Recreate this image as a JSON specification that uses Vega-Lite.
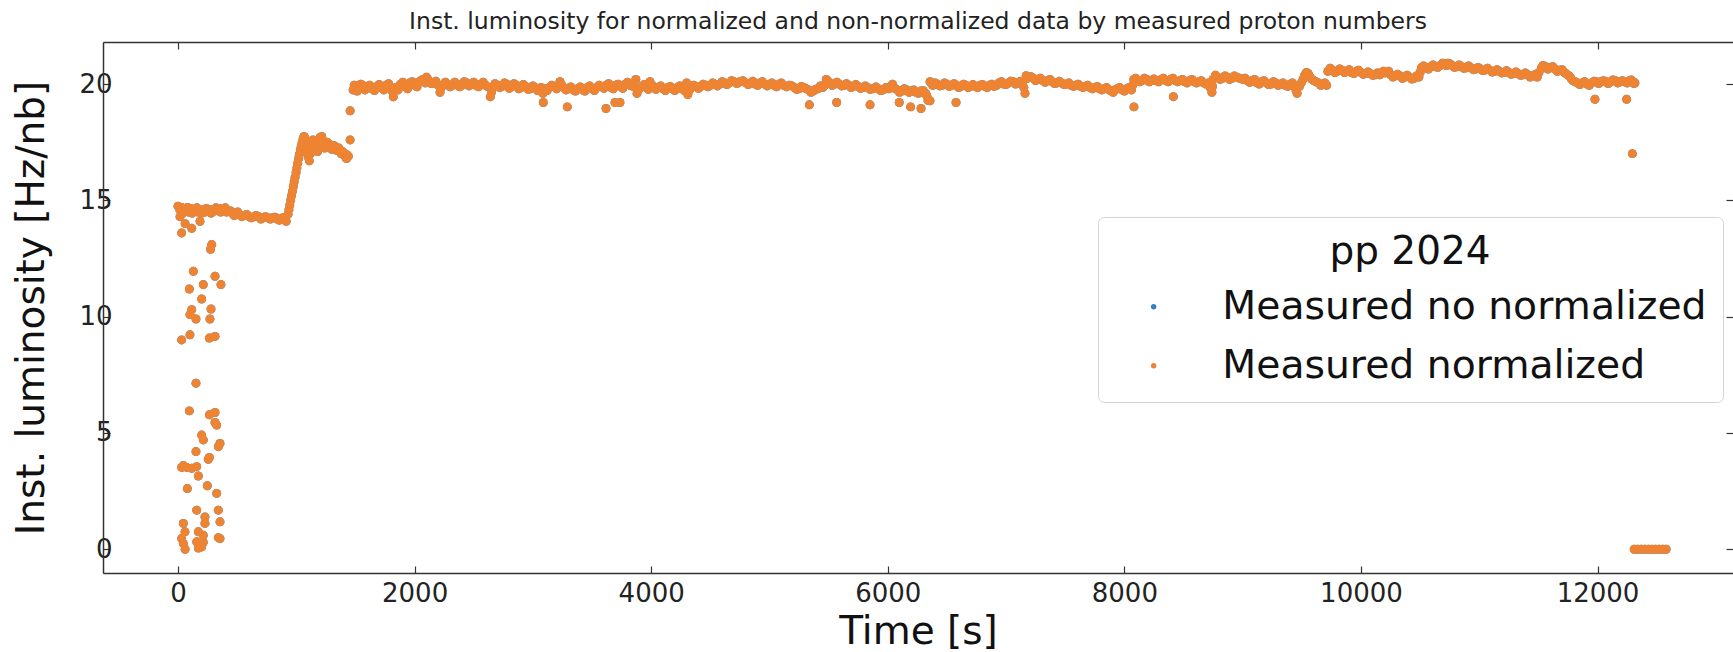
{
  "$schema": "https://vega.github.io/schema/vega-lite/v6.json",
  "width": 1630,
  "height": 531,
  "autosize": {"type": "none"},
  "padding": {"left": 103, "top": 42, "right": 0, "bottom": 79},
  "background": "white",
  "config": {
    "view": {"stroke": null},
    "font": "DejaVu Sans",
    "axis": {
      "grid": false,
      "domainColor": "#333",
      "domainWidth": 1.5,
      "tickColor": "#333",
      "tickWidth": 1.2,
      "tickSize": -7,
      "labelFont": "DejaVu Sans",
      "labelFontSize": 26,
      "labelColor": "#222",
      "titleFont": "DejaVu Sans",
      "titleFontSize": 39,
      "titleFontWeight": "normal",
      "titleColor": "#111",
      "format": "d"
    }
  },
  "title": {
    "text": "Inst. luminosity for normalized and non-normalized data by measured proton numbers",
    "font": "DejaVu Sans",
    "fontSize": 23.5,
    "fontWeight": "normal",
    "color": "#222",
    "anchor": "middle",
    "offset": 8
  },
  "data": {
    "values": [
      {"t":0,"v":14.75},{"t":15,"v":14.6},{"t":30,"v":14.7},{"t":50,"v":14.55},{"t":70,"v":14.6},{"t":90,"v":14.5},{"t":110,"v":14.65},{"t":130,"v":14.55},{"t":150,"v":14.6},{"t":170,"v":14.5},{"t":190,"v":14.55},{"t":210,"v":14.6},{"t":230,"v":14.5},{"t":250,"v":14.55},{"t":270,"v":14.6},{"t":290,"v":14.5},{"t":310,"v":14.55},{"t":330,"v":14.6},{"t":350,"v":14.65},{"t":370,"v":14.55},{"t":390,"v":14.6},{"t":410,"v":14.5},{"t":430,"v":14.55},{"t":460,"v":14.45},{"t":490,"v":14.45},{"t":520,"v":14.4},{"t":560,"v":14.35},{"t":600,"v":14.3},{"t":640,"v":14.3},{"t":680,"v":14.3},{"t":720,"v":14.25},{"t":760,"v":14.25},{"t":800,"v":14.25},{"t":840,"v":14.2},{"t":870,"v":14.2},{"t":900,"v":14.15},{"t":915,"v":14.1},
      {"t":40,"v":14.45},{"t":80,"v":14.7},{"t":120,"v":14.45},{"t":160,"v":14.68},{"t":200,"v":14.45},{"t":240,"v":14.65},{"t":280,"v":14.45},{"t":320,"v":14.68},{"t":360,"v":14.5},{"t":400,"v":14.68},{"t":445,"v":14.55},{"t":475,"v":14.35},{"t":505,"v":14.5},{"t":540,"v":14.3},{"t":580,"v":14.4},{"t":620,"v":14.25},{"t":660,"v":14.35},{"t":700,"v":14.2},{"t":740,"v":14.3},{"t":780,"v":14.2},{"t":820,"v":14.28},{"t":855,"v":14.15},{"t":885,"v":14.25},
      {"t":930,"v":14.4},{"t":945,"v":14.8},{"t":960,"v":15.2},{"t":975,"v":15.6},{"t":990,"v":16.0},{"t":1005,"v":16.4},{"t":1020,"v":16.8},{"t":1035,"v":17.2},{"t":1050,"v":17.5},{"t":1065,"v":17.75},{"t":1080,"v":17.5},{"t":1095,"v":17.0},{"t":1110,"v":16.7},{"t":1125,"v":17.3},{"t":1140,"v":17.6},{"t":1160,"v":17.4},{"t":1180,"v":17.1},{"t":1200,"v":17.7},{"t":1215,"v":17.75},{"t":1230,"v":17.4},{"t":1250,"v":17.35},{"t":1270,"v":17.45},{"t":1290,"v":17.3},{"t":1310,"v":17.35},{"t":1330,"v":17.25},{"t":1350,"v":17.2},{"t":1370,"v":17.15},{"t":1390,"v":17.1},{"t":1410,"v":16.95},{"t":1425,"v":16.8},{"t":1440,"v":16.9},{"t":1455,"v":17.6},{"t":1455,"v":18.85},
      {"t":938,"v":14.6},{"t":952,"v":15.0},{"t":968,"v":15.4},{"t":982,"v":15.8},{"t":998,"v":16.2},{"t":1012,"v":16.6},{"t":1028,"v":17.0},{"t":1042,"v":17.35},{"t":1058,"v":17.65},{"t":1072,"v":17.7},{"t":1088,"v":17.2},{"t":1102,"v":16.85},{"t":1118,"v":17.0},{"t":1132,"v":17.5},{"t":1150,"v":17.55},{"t":1170,"v":17.25},{"t":1190,"v":17.4},{"t":1208,"v":17.6},{"t":1222,"v":17.55},{"t":1240,"v":17.25},{"t":1260,"v":17.5},{"t":1280,"v":17.35},{"t":1300,"v":17.2},{"t":1320,"v":17.35},{"t":1340,"v":17.15},{"t":1360,"v":17.25},{"t":1380,"v":17.0},{"t":1400,"v":17.05},{"t":1418,"v":16.85},{"t":1432,"v":16.95},
      {"t":17,"v":14.3},{"t":31,"v":13.6},{"t":116,"v":13.8},{"t":186,"v":14.1},{"t":60,"v":14.0},{"t":285,"v":13.1},{"t":275,"v":12.9},
      {"t":130,"v":11.95},{"t":313,"v":11.74},{"t":363,"v":11.38},{"t":214,"v":11.38},{"t":96,"v":11.19},{"t":200,"v":10.76},{"t":116,"v":10.3},{"t":101,"v":10.09},{"t":152,"v":9.9},{"t":279,"v":10.33},{"t":270,"v":9.9},{"t":31,"v":9.0},{"t":101,"v":9.22},{"t":265,"v":9.08},{"t":313,"v":9.15},
      {"t":152,"v":7.14},{"t":96,"v":5.95},{"t":265,"v":5.78},{"t":313,"v":5.88},{"t":327,"v":5.34},{"t":313,"v":5.45},{"t":200,"v":4.91},{"t":214,"v":4.7},{"t":355,"v":4.55},{"t":341,"v":4.41},{"t":152,"v":4.2},{"t":256,"v":3.87},{"t":265,"v":3.95},{"t":31,"v":3.52},{"t":73,"v":3.52},{"t":116,"v":3.48},{"t":158,"v":3.55},{"t":45,"v":3.6},{"t":172,"v":3.15},{"t":79,"v":2.61},{"t":248,"v":2.73},{"t":327,"v":2.4},{"t":158,"v":1.68},{"t":341,"v":1.68},{"t":228,"v":1.39},{"t":228,"v":1.11},{"t":355,"v":1.18},{"t":45,"v":1.11},{"t":59,"v":0.75},{"t":172,"v":0.75},{"t":214,"v":0.6},{"t":355,"v":0.46},{"t":45,"v":0.25},{"t":158,"v":0.32},{"t":200,"v":0.1},{"t":31,"v":0.46},{"t":186,"v":0.2},{"t":172,"v":0.05},{"t":341,"v":0.5},{"t":60,"v":0.0},{"t":214,"v":0.3},
      {"t":1480,"v":19.75},{"t":1500,"v":19.9},{"t":1530,"v":19.8},{"t":1560,"v":19.95},{"t":1600,"v":19.85},{"t":1640,"v":19.8},{"t":1680,"v":19.9},{"t":1720,"v":19.85},{"t":1760,"v":19.95},{"t":1800,"v":19.8},{"t":1820,"v":19.45},{"t":1840,"v":19.85},{"t":1880,"v":20.0},{"t":1920,"v":19.9},{"t":1960,"v":20.05},{"t":2000,"v":19.95},{"t":2040,"v":20.1},{"t":2080,"v":20.2},{"t":2100,"v":20.3},{"t":2120,"v":20.15},{"t":2160,"v":20.05},{"t":2200,"v":19.95},{"t":2215,"v":19.65},{"t":2240,"v":19.95},{"t":2280,"v":20.0},{"t":2320,"v":19.95},{"t":2360,"v":20.0},{"t":2400,"v":19.95},{"t":2440,"v":20.05},{"t":2480,"v":20.0},{"t":2520,"v":19.95},{"t":2560,"v":20.0},{"t":2600,"v":19.95},{"t":2640,"v":19.45},{"t":2660,"v":19.85},{"t":2700,"v":19.95},{"t":2740,"v":19.9},{"t":2780,"v":20.0},{"t":2820,"v":19.9},{"t":2860,"v":19.95},{"t":2900,"v":19.85},{"t":2940,"v":19.9},{"t":2980,"v":19.8},{"t":3020,"v":19.85},{"t":3060,"v":19.75},{"t":3085,"v":19.6},
      {"t":1490,"v":19.95},{"t":1515,"v":19.7},{"t":1545,"v":20.0},{"t":1580,"v":19.75},{"t":1620,"v":19.95},{"t":1660,"v":19.72},{"t":1700,"v":19.98},{"t":1740,"v":19.75},{"t":1780,"v":20.02},{"t":1810,"v":19.7},{"t":1860,"v":19.75},{"t":1900,"v":20.08},{"t":1940,"v":19.8},{"t":1980,"v":20.1},{"t":2020,"v":19.88},{"t":2060,"v":20.18},{"t":2090,"v":20.05},{"t":2110,"v":20.22},{"t":2140,"v":20.02},{"t":2180,"v":20.12},{"t":2225,"v":19.85},{"t":2260,"v":20.08},{"t":2300,"v":19.88},{"t":2340,"v":20.08},{"t":2380,"v":19.88},{"t":2420,"v":20.1},{"t":2460,"v":19.92},{"t":2500,"v":20.08},{"t":2540,"v":19.88},{"t":2580,"v":20.08},{"t":2620,"v":19.88},{"t":2650,"v":19.65},{"t":2680,"v":20.02},{"t":2720,"v":19.85},{"t":2760,"v":20.05},{"t":2800,"v":19.82},{"t":2840,"v":20.02},{"t":2880,"v":19.8},{"t":2920,"v":19.98},{"t":2960,"v":19.78},{"t":3000,"v":19.92},{"t":3040,"v":19.72},{"t":3070,"v":19.85},
      {"t":3100,"v":19.8},{"t":3140,"v":19.85},{"t":3180,"v":19.9},{"t":3229,"v":20.1},{"t":3260,"v":19.85},{"t":3300,"v":19.8},{"t":3340,"v":19.75},{"t":3380,"v":19.8},{"t":3420,"v":19.75},{"t":3460,"v":19.85},{"t":3500,"v":19.8},{"t":3540,"v":19.85},{"t":3580,"v":19.9},{"t":3620,"v":19.95},{"t":3660,"v":19.85},{"t":3700,"v":19.95},{"t":3740,"v":19.9},{"t":3780,"v":20.0},{"t":3820,"v":19.95},{"t":3870,"v":20.2},{"t":3880,"v":19.6},{"t":3920,"v":19.9},{"t":3960,"v":19.85},{"t":3990,"v":20.1},{"t":4020,"v":19.9},{"t":4060,"v":19.85},{"t":4100,"v":19.8},{"t":4140,"v":19.85},{"t":4180,"v":19.8},{"t":4220,"v":19.85},{"t":4260,"v":19.8},{"t":4300,"v":20.05},{"t":4310,"v":19.55},{"t":4340,"v":19.85},{"t":4380,"v":19.9},{"t":4420,"v":19.9},{"t":4460,"v":19.95},{"t":4500,"v":19.95},{"t":4540,"v":20.0},{"t":4580,"v":20.0},{"t":4620,"v":20.05},{"t":4660,"v":20.05},{"t":4700,"v":20.1},{"t":4750,"v":20.1},{"t":4800,"v":20.05},{"t":4840,"v":20.05},{"t":4880,"v":20.0},{"t":4920,"v":20.05},{"t":4960,"v":20.0},{"t":5000,"v":20.0},{"t":5040,"v":19.95},{"t":5080,"v":20.0},{"t":5120,"v":19.95},{"t":5170,"v":19.95},{"t":5210,"v":19.85},{"t":5250,"v":19.8},{"t":5290,"v":19.85},{"t":5330,"v":19.75},{"t":5370,"v":19.7},{"t":5410,"v":19.8},{"t":5450,"v":19.85},{"t":5480,"v":20.2},{"t":5510,"v":20.05},{"t":5550,"v":20.0},{"t":5590,"v":20.0},{"t":5630,"v":19.95},{"t":5670,"v":19.95},{"t":5710,"v":19.9},{"t":5750,"v":19.9},{"t":5790,"v":19.85},{"t":5830,"v":19.85},{"t":5875,"v":19.8},{"t":5920,"v":19.8},{"t":5960,"v":19.75},{"t":6010,"v":19.8},{"t":6040,"v":20.0},{"t":6080,"v":19.75},{"t":6120,"v":19.7},{"t":6160,"v":19.75},{"t":6200,"v":19.7},{"t":6240,"v":19.65},{"t":6280,"v":19.7},{"t":6320,"v":19.6},{"t":6340,"v":19.3},{"t":6357,"v":20.1},{"t":6380,"v":19.95},
      {"t":3120,"v":19.72},{"t":3160,"v":19.95},{"t":3200,"v":19.8},{"t":3245,"v":19.95},{"t":3280,"v":19.75},{"t":3320,"v":19.88},{"t":3360,"v":19.7},{"t":3400,"v":19.88},{"t":3440,"v":19.7},{"t":3480,"v":19.92},{"t":3520,"v":19.72},{"t":3560,"v":19.95},{"t":3600,"v":19.82},{"t":3640,"v":20.02},{"t":3680,"v":19.8},{"t":3720,"v":20.0},{"t":3760,"v":19.82},{"t":3800,"v":20.08},{"t":3845,"v":19.9},{"t":3900,"v":19.8},{"t":3940,"v":19.98},{"t":3975,"v":19.78},{"t":4005,"v":19.95},{"t":4040,"v":19.78},{"t":4080,"v":19.92},{"t":4120,"v":19.72},{"t":4160,"v":19.9},{"t":4200,"v":19.72},{"t":4240,"v":19.92},{"t":4280,"v":19.72},{"t":4325,"v":19.75},{"t":4360,"v":19.95},{"t":4400,"v":19.82},{"t":4440,"v":20.0},{"t":4480,"v":19.88},{"t":4520,"v":20.05},{"t":4560,"v":19.92},{"t":4600,"v":20.1},{"t":4640,"v":19.98},{"t":4680,"v":20.15},{"t":4725,"v":20.02},{"t":4775,"v":20.15},{"t":4820,"v":19.98},{"t":4860,"v":20.12},{"t":4900,"v":19.95},{"t":4940,"v":20.1},{"t":4980,"v":19.92},{"t":5020,"v":20.05},{"t":5060,"v":19.88},{"t":5100,"v":20.05},{"t":5145,"v":19.88},{"t":5190,"v":19.92},{"t":5230,"v":19.78},{"t":5270,"v":19.9},{"t":5310,"v":19.8},{"t":5350,"v":19.65},{"t":5390,"v":19.78},{"t":5430,"v":19.92},{"t":5465,"v":19.95},{"t":5495,"v":20.12},{"t":5530,"v":19.95},{"t":5570,"v":20.08},{"t":5610,"v":19.92},{"t":5650,"v":20.02},{"t":5690,"v":19.85},{"t":5730,"v":19.98},{"t":5770,"v":19.82},{"t":5810,"v":19.92},{"t":5850,"v":19.78},{"t":5900,"v":19.88},{"t":5940,"v":19.72},{"t":5985,"v":19.85},{"t":6025,"v":19.9},{"t":6060,"v":19.82},{"t":6100,"v":19.65},{"t":6140,"v":19.8},{"t":6180,"v":19.65},{"t":6220,"v":19.75},{"t":6260,"v":19.6},{"t":6300,"v":19.72},{"t":6330,"v":19.5},{"t":6368,"v":20.05},
      {"t":6420,"v":20.0},{"t":6460,"v":19.95},{"t":6500,"v":20.0},{"t":6540,"v":19.95},{"t":6580,"v":19.95},{"t":6620,"v":19.9},{"t":6660,"v":19.95},{"t":6700,"v":19.9},{"t":6740,"v":19.9},{"t":6780,"v":19.95},{"t":6820,"v":19.9},{"t":6860,"v":19.95},{"t":6900,"v":19.9},{"t":6940,"v":20.05},{"t":6980,"v":20.0},{"t":7020,"v":20.05},{"t":7060,"v":20.1},{"t":7100,"v":20.05},{"t":7140,"v":20.05},{"t":7160,"v":19.6},{"t":7170,"v":20.36},{"t":7190,"v":20.3},{"t":7230,"v":20.25},{"t":7270,"v":20.2},{"t":7310,"v":20.15},{"t":7350,"v":20.15},{"t":7390,"v":20.1},{"t":7430,"v":20.05},{"t":7470,"v":20.05},{"t":7510,"v":20.0},{"t":7550,"v":19.95},{"t":7590,"v":19.95},{"t":7630,"v":19.9},{"t":7670,"v":19.9},{"t":7710,"v":19.85},{"t":7750,"v":19.85},{"t":7790,"v":19.8},{"t":7830,"v":19.8},{"t":7870,"v":19.75},{"t":7905,"v":19.65},{"t":7940,"v":19.8},{"t":7980,"v":19.75},{"t":8020,"v":19.8},{"t":8060,"v":19.75},{"t":8080,"v":20.2},{"t":8110,"v":20.15},{"t":8150,"v":20.15},{"t":8190,"v":20.2},{"t":8230,"v":20.15},{"t":8270,"v":20.15},{"t":8310,"v":20.2},{"t":8350,"v":20.15},{"t":8390,"v":20.2},{"t":8430,"v":20.15},{"t":8470,"v":20.15},{"t":8510,"v":20.1},{"t":8550,"v":20.15},{"t":8590,"v":20.1},{"t":8630,"v":20.1},{"t":8670,"v":20.05},{"t":8710,"v":20.05},{"t":8740,"v":19.65},{"t":8750,"v":20.2},{"t":8790,"v":20.3},{"t":8830,"v":20.25},{"t":8870,"v":20.3},{"t":8910,"v":20.25},{"t":8950,"v":20.3},{"t":9000,"v":20.2},{"t":9040,"v":20.15},{"t":9080,"v":20.15},{"t":9120,"v":20.05},{"t":9160,"v":20.1},{"t":9200,"v":20.05},{"t":9240,"v":20.0},{"t":9280,"v":20.05},{"t":9320,"v":20.0},{"t":9360,"v":19.95},{"t":9400,"v":20.0},{"t":9440,"v":19.9},{"t":9460,"v":19.6},{"t":9480,"v":19.9},{"t":9510,"v":20.2},{"t":9540,"v":20.5},{"t":9570,"v":20.3},{"t":9600,"v":20.15},{"t":9640,"v":20.05},{"t":9680,"v":20.0},{"t":9710,"v":19.95},
      {"t":6400,"v":20.05},{"t":6440,"v":19.92},{"t":6480,"v":20.05},{"t":6520,"v":19.9},{"t":6560,"v":20.02},{"t":6600,"v":19.85},{"t":6640,"v":20.0},{"t":6680,"v":19.85},{"t":6720,"v":19.98},{"t":6760,"v":19.85},{"t":6800,"v":19.98},{"t":6840,"v":19.85},{"t":6880,"v":20.0},{"t":6920,"v":19.95},{"t":6960,"v":20.1},{"t":7000,"v":19.98},{"t":7040,"v":20.12},{"t":7080,"v":20.0},{"t":7120,"v":20.12},{"t":7150,"v":19.85},{"t":7180,"v":20.25},{"t":7210,"v":20.32},{"t":7250,"v":20.15},{"t":7290,"v":20.25},{"t":7330,"v":20.08},{"t":7370,"v":20.2},{"t":7410,"v":20.02},{"t":7450,"v":20.12},{"t":7490,"v":19.98},{"t":7530,"v":20.05},{"t":7570,"v":19.9},{"t":7610,"v":20.0},{"t":7650,"v":19.85},{"t":7690,"v":19.95},{"t":7730,"v":19.8},{"t":7770,"v":19.9},{"t":7810,"v":19.75},{"t":7850,"v":19.85},{"t":7890,"v":19.7},{"t":7920,"v":19.75},{"t":7960,"v":19.85},{"t":8000,"v":19.7},{"t":8040,"v":19.85},{"t":8070,"v":19.95},{"t":8095,"v":20.25},{"t":8130,"v":20.1},{"t":8170,"v":20.25},{"t":8210,"v":20.1},{"t":8250,"v":20.22},{"t":8290,"v":20.1},{"t":8330,"v":20.25},{"t":8370,"v":20.1},{"t":8410,"v":20.25},{"t":8450,"v":20.1},{"t":8490,"v":20.2},{"t":8530,"v":20.05},{"t":8570,"v":20.2},{"t":8610,"v":20.05},{"t":8650,"v":20.15},{"t":8690,"v":20.0},{"t":8725,"v":19.85},{"t":8745,"v":19.9},{"t":8770,"v":20.38},{"t":8810,"v":20.2},{"t":8850,"v":20.35},{"t":8890,"v":20.2},{"t":8930,"v":20.35},{"t":8975,"v":20.25},{"t":9020,"v":20.25},{"t":9060,"v":20.08},{"t":9100,"v":20.2},{"t":9140,"v":20.0},{"t":9180,"v":20.15},{"t":9220,"v":19.98},{"t":9260,"v":20.1},{"t":9300,"v":19.95},{"t":9340,"v":20.05},{"t":9380,"v":19.9},{"t":9420,"v":20.05},{"t":9450,"v":19.75},{"t":9495,"v":20.05},{"t":9525,"v":20.4},{"t":9555,"v":20.45},{"t":9585,"v":20.2},{"t":9620,"v":20.1},{"t":9660,"v":19.95},{"t":9695,"v":20.05},
      {"t":9720,"v":20.55},{"t":9760,"v":20.6},{"t":9800,"v":20.55},{"t":9840,"v":20.6},{"t":9880,"v":20.55},{"t":9920,"v":20.5},{"t":9960,"v":20.55},{"t":10000,"v":20.5},{"t":10040,"v":20.45},{"t":10080,"v":20.45},{"t":10120,"v":20.4},{"t":10160,"v":20.4},{"t":10190,"v":20.55},{"t":10220,"v":20.5},{"t":10250,"v":20.4},{"t":10290,"v":20.35},{"t":10330,"v":20.35},{"t":10370,"v":20.3},{"t":10410,"v":20.3},{"t":10450,"v":20.25},{"t":10490,"v":20.3},{"t":10510,"v":20.7},{"t":10550,"v":20.7},{"t":10590,"v":20.75},{"t":10630,"v":20.75},{"t":10670,"v":20.8},{"t":10710,"v":20.85},{"t":10735,"v":20.9},{"t":10770,"v":20.8},{"t":10810,"v":20.75},{"t":10850,"v":20.75},{"t":10890,"v":20.7},{"t":10930,"v":20.7},{"t":10970,"v":20.65},{"t":11010,"v":20.65},{"t":11050,"v":20.6},{"t":11090,"v":20.6},{"t":11130,"v":20.55},{"t":11170,"v":20.55},{"t":11210,"v":20.5},{"t":11250,"v":20.5},{"t":11290,"v":20.45},{"t":11330,"v":20.45},{"t":11370,"v":20.4},{"t":11410,"v":20.4},{"t":11450,"v":20.35},{"t":11490,"v":20.3},{"t":11525,"v":20.7},{"t":11560,"v":20.75},{"t":11600,"v":20.7},{"t":11640,"v":20.65},{"t":11680,"v":20.6},{"t":11720,"v":20.5},{"t":11760,"v":20.35},{"t":11790,"v":20.15},{"t":11830,"v":20.05},{"t":11870,"v":20.05},{"t":11910,"v":20.0},{"t":11950,"v":20.05},{"t":11990,"v":20.1},{"t":12030,"v":20.1},{"t":12070,"v":20.1},{"t":12110,"v":20.1},{"t":12150,"v":20.15},{"t":12190,"v":20.1},{"t":12230,"v":20.1},{"t":12270,"v":20.15},{"t":12300,"v":20.1},{"t":12316,"v":20.05},
      {"t":9740,"v":20.68},{"t":9780,"v":20.5},{"t":9820,"v":20.65},{"t":9860,"v":20.5},{"t":9900,"v":20.62},{"t":9940,"v":20.45},{"t":9980,"v":20.6},{"t":10020,"v":20.42},{"t":10060,"v":20.52},{"t":10100,"v":20.38},{"t":10140,"v":20.48},{"t":10175,"v":20.5},{"t":10205,"v":20.48},{"t":10235,"v":20.55},{"t":10270,"v":20.3},{"t":10310,"v":20.42},{"t":10350,"v":20.25},{"t":10390,"v":20.38},{"t":10430,"v":20.22},{"t":10470,"v":20.35},{"t":10500,"v":20.5},{"t":10530,"v":20.78},{"t":10570,"v":20.65},{"t":10610,"v":20.82},{"t":10650,"v":20.72},{"t":10690,"v":20.9},{"t":10722,"v":20.8},{"t":10750,"v":20.88},{"t":10790,"v":20.72},{"t":10830,"v":20.82},{"t":10870,"v":20.68},{"t":10910,"v":20.78},{"t":10950,"v":20.62},{"t":10990,"v":20.72},{"t":11030,"v":20.58},{"t":11070,"v":20.68},{"t":11110,"v":20.52},{"t":11150,"v":20.62},{"t":11190,"v":20.48},{"t":11230,"v":20.58},{"t":11270,"v":20.42},{"t":11310,"v":20.52},{"t":11350,"v":20.38},{"t":11390,"v":20.48},{"t":11430,"v":20.3},{"t":11470,"v":20.4},{"t":11505,"v":20.5},{"t":11540,"v":20.8},{"t":11580,"v":20.65},{"t":11620,"v":20.75},{"t":11660,"v":20.55},{"t":11700,"v":20.62},{"t":11740,"v":20.42},{"t":11775,"v":20.25},{"t":11810,"v":20.1},{"t":11850,"v":19.98},{"t":11890,"v":20.1},{"t":11930,"v":19.95},{"t":11970,"v":20.12},{"t":12010,"v":20.02},{"t":12050,"v":20.15},{"t":12090,"v":20.02},{"t":12130,"v":20.18},{"t":12170,"v":20.05},{"t":12210,"v":20.15},{"t":12250,"v":20.05},{"t":12285,"v":20.18},{"t":12308,"v":20.02},
      {"t":3088,"v":19.21},{"t":3291,"v":19.02},{"t":3618,"v":18.95},{"t":3694,"v":19.21},{"t":3736,"v":19.21},{"t":5337,"v":19.11},{"t":5568,"v":19.21},{"t":5850,"v":19.11},{"t":6097,"v":19.21},{"t":6193,"v":19.02},{"t":6281,"v":18.95},{"t":6357,"v":19.28},{"t":6577,"v":19.21},{"t":8081,"v":19.02},{"t":8414,"v":19.46},{"t":11978,"v":19.35},{"t":12246,"v":19.35},{"t":12294,"v":17.01},
      {"t":12310,"v":0},{"t":12340,"v":0},{"t":12370,"v":0},{"t":12400,"v":0},{"t":12430,"v":0},{"t":12460,"v":0},{"t":12490,"v":0},{"t":12520,"v":0},{"t":12550,"v":0},{"t":12580,"v":0}
    ]
  },
  "layer": [
    {
      "mark": {"type": "point", "filled": true, "size": 80, "opacity": 1, "strokeWidth": 0},
      "encoding": {
        "x": {"field": "t", "type": "quantitative", "title": "Time [s]",
              "scale": {"domain": [-634, 13145], "nice": false, "zero": false},
              "axis": {"orient": "bottom", "values": [0,2000,4000,6000,8000,10000,12000], "labelPadding": 14, "titlePadding": 6}},
        "y": {"field": "v", "type": "quantitative", "title": "Inst. luminosity [Hz/nb]",
              "scale": {"domain": [-1.02, 21.81], "nice": false, "zero": false},
              "axis": {"orient": "left", "values": [0,5,10,15,20], "labelPadding": -2, "titlePadding": 27}},
        "color": {"datum": "Measured no normalized", "type": "nominal",
                  "scale": {"domain": ["Measured no normalized", "Measured normalized"], "range": ["#3b7dc4", "#ee8432"]},
                  "legend": {
                    "title": "pp 2024", "orient": "none", "legendX": 995, "legendY": 175,
                    "titleFont": "DejaVu Sans", "titleFontSize": 39, "titleFontWeight": "normal", "titleColor": "#111",
                    "titleAnchor": "middle", "titleAlign": "center", "titleLimit": 1000,
                    "labelFont": "DejaVu Sans", "labelFontSize": 39.3, "labelColor": "#111", "labelLimit": 1000,
                    "symbolType": "circle", "symbolSize": 30, "symbolStrokeWidth": 0, "symbolOffset": 20,
                    "labelOffset": 49, "padding": 16, "rowPadding": 19, "titlePadding": 15,
                    "strokeColor": "#d4d4d4", "fillColor": "rgba(255,255,255,0.8)", "cornerRadius": 6
                  }}
      }
    },
    {
      "mark": {"type": "point", "filled": true, "size": 80, "opacity": 1, "strokeWidth": 0},
      "encoding": {
        "x": {"field": "t", "type": "quantitative", "title": null,
              "scale": {"domain": [-634, 13145], "nice": false, "zero": false},
              "axis": {"orient": "top", "values": [0,2000,4000,6000,8000,10000,12000], "labels": false}},
        "y": {"field": "v", "type": "quantitative", "title": null,
              "scale": {"domain": [-1.02, 21.81], "nice": false, "zero": false},
              "axis": {"orient": "right", "values": [0,5,10,15,20], "labels": false, "domain": false}},
        "color": {"datum": "Measured normalized", "type": "nominal"}
      }
    }
  ],
  "resolve": {"axis": {"x": "independent", "y": "independent"}}
}
